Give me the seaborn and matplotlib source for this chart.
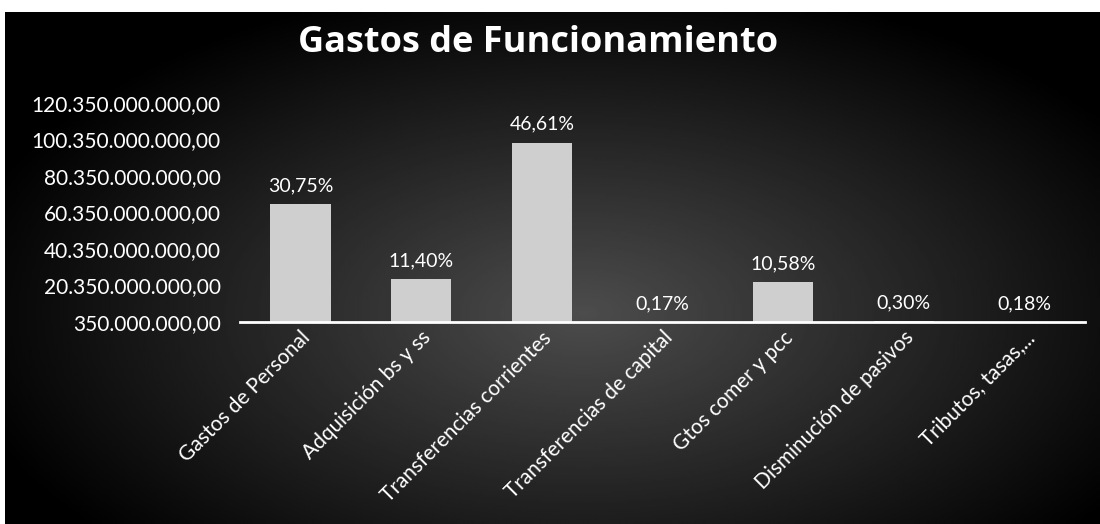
import numpy as np
import pandas as pd
import seaborn as sns
import matplotlib.pyplot as plt
from matplotlib.ticker import FuncFormatter

categorias = ["Gastos de Personal", "Adquisición bs y ss", "Transferencias corrientes",
              "Transferencias de capital", "Gtos comer y pcc", "Disminución de pasivos",
              "Tributos, tasas,..."]
valores = [65.1e9, 24.1e9, 98.7e9, 0.36e9, 22.4e9, 0.64e9, 0.38e9]
porcentajes = ["30,75%", "11,40%", "46,61%", "0,17%", "10,58%", "0,30%", "0,18%"]
ticks_y = [0.35e9, 20.35e9, 40.35e9, 60.35e9, 80.35e9, 100.35e9, 120.35e9]

df = pd.DataFrame({"categoria": categorias, "valor": valores})

sns.set_style("dark")
plt.rcParams["font.family"] = ["Lato", "DejaVu Sans"]

fig = plt.figure(figsize=(11, 5.24), dpi=100, facecolor="white")

# dark scanned background with a faint lighter centre
bg = fig.add_axes([5 / 1100, 0, 1 - 5 / 1100, (524 - 12) / 524])
yy, xx = np.mgrid[0:256, 0:512]
r = np.sqrt(((xx - 270) / 300.0) ** 2 + ((yy - 150) / 170.0) ** 2)
glow = np.clip(1 - r, 0, 1) * 0.3
bg.imshow(glow, cmap="gray", vmin=0, vmax=1, aspect="auto", extent=[0, 1, 0, 1])
bg.set_axis_off()

ax = fig.add_axes([240 / 1100, 202 / 524, 845 / 1100, 219 / 524])
ax.patch.set_alpha(0)
sns.barplot(data=df, x="categoria", y="valor", color="#cfcfcf", width=0.5,
            saturation=1, edgecolor="none", ax=ax)

ax.set_ylim(0.35e9, 120.35e9)
ax.set_yticks(ticks_y)
ax.yaxis.set_major_formatter(FuncFormatter(
    lambda v, p: f"{v:,.2f}".replace(",", "X").replace(".", ",").replace("X", ".")))
ax.tick_params(axis="y", colors="white", labelsize=15, length=0, pad=14)
ax.tick_params(axis="x", colors="white", labelsize=15, length=0, pad=4)
for lab in ax.get_xticklabels():
    lab.set_rotation(45)
    lab.set_ha("right")
    lab.set_rotation_mode("anchor")
ax.set_xlabel("")
ax.set_ylabel("")
ax.grid(False)
for s in ["top", "right", "left"]:
    ax.spines[s].set_visible(False)
ax.spines["bottom"].set_color("white")
ax.spines["bottom"].set_linewidth(2)

for i, (v, t) in enumerate(zip(valores, porcentajes)):
    ax.annotate(t, (i, max(v, 0.35e9)), xytext=(0, 7), textcoords="offset points",
                ha="center", va="bottom", color="white", fontsize=14)

fig.text(0.489, 0.918, "Gastos de Funcionamiento", color="white", fontsize=26,
         fontweight="bold", ha="center", va="center", family=["Open Sans", "DejaVu Sans"])

fig.savefig("out.png", dpi=100, facecolor=fig.get_facecolor())
